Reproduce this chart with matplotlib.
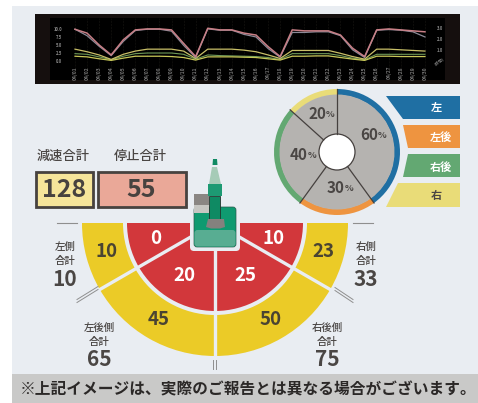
import matplotlib
matplotlib.use("Agg")
import numpy as np
import matplotlib.pyplot as plt
from matplotlib.patches import Wedge, Rectangle, Polygon, FancyBboxPatch, Circle

plt.rcParams['font.family'] = ['Noto Sans CJK JP', 'DejaVu Sans']

W, H = 478, 403

# line chart values
days = ["04/%02d" % d for d in range(1, 31)]
red_line = [100, 88, 51, 20, 67, 98, 101, 101, 98, 56, 15, 103, 98, 98, 88, 82, 46, 15, 98, 95, 95, 95, 82, 41, 15, 98, 101, 98, 95, 92]
gray_line = [100, 80, 47, 18, 62, 96, 100, 100, 94, 50, 12, 101, 97, 97, 84, 76, 40, 13, 90, 90, 92, 92, 80, 36, 12, 97, 99, 97, 92, 76]
yellow_top = [38, 30, 20, 6, 22, 32, 38, 38, 38, 32, 9, 38, 38, 38, 35, 30, 20, 9, 34, 34, 34, 34, 25, 15, 7, 38, 38, 36, 34, 32]
green_line = [24, 22, 14, 5, 16, 24, 26, 26, 26, 22, 7, 20, 18, 17, 16, 15, 12, 6, 24, 24, 24, 24, 18, 10, 5, 22, 22, 22, 22, 22]
yellow_low = [16, 14, 8, 3, 10, 16, 16, 16, 15, 12, 4, 14, 14, 14, 13, 12, 8, 4, 16, 16, 17, 17, 12, 7, 3, 16, 16, 15, 15, 15]
y_ticks = [0, 25, 50, 75, 100]
y_tick_labels = ["0.0", "2.5", "5.0", "7.5", "10.0"]
right_ticks = [35, 70, 105]
right_labels = ["1.0", "2.0", "3.0"]

# direction donut
dir_names = ["左", "左後", "右後", "右"]
dir_pct = [60, 30, 40, 20]
dir_colors = ["#1f6fa3", "#ee9440", "#63a872", "#e9dc78"]

# half ring counts, right to left
ring_angles = [30, 60, 60, 30]
inner_vals = [10, 25, 20, 0]
outer_vals = [23, 50, 45, 10]

slow_total = 128
stop_total = 55
totals = {"左側": 10, "左後側": 65, "右後側": 75, "右側": 33}

fig = plt.figure(figsize=(W / 100, H / 100), dpi=100, facecolor="white")
ax = fig.add_axes([0, 0, 1, 1])
ax.set_xlim(0, W)
ax.set_ylim(H, 0)
ax.axis('off')


def sub_axes(x0, y0, x1, y1):
    return fig.add_axes([x0 / W, 1 - y1 / H, (x1 - x0) / W, (y1 - y0) / H])


ax.add_patch(Rectangle((12, 6), W - 12, 368, fc="#e9edf2", ec="none"))
ax.add_patch(Rectangle((12, 374), W - 12, 29, fc="#c9c9c8", ec="none"))
ax.text(248, 389, "※上記イメージは、実際のご報告とは異なる場合がございます。", fontsize=11.3,
        fontweight='bold', color="#2b2827", ha='center', va='center')

# top chart
ax.add_patch(Rectangle((35, 14), 425, 70, fc="#150f0e", ec="none"))
lc = sub_axes(50, 18, 445, 80)
lc.set_facecolor("black")
lc.set_xlim(-2.07, 30.66)
lc.set_ylim(-58, 135)
x = np.arange(len(days))
for i in x:
    lc.axvline(i, color="#2c2a22", lw=0.4, ls=':')
lc.plot(x, green_line, color="#6f9a58", lw=0.8)
lc.plot(x, yellow_low, color="#c8c858", lw=0.9)
lc.plot(x, yellow_top, color="#c8bf68", lw=0.9)
lc.plot(x, gray_line, color="#8c8a98", lw=0.9)
lc.plot(x, red_line, color="#c87f86", lw=1.1)
lc.set_xticks(x)
lc.set_xticklabels(days, rotation=90, fontsize=3.5, color="#777777", fontweight='bold')
lc.set_yticks(y_ticks)
lc.set_yticklabels(y_tick_labels, fontsize=3, color="#8a8a8a", fontweight='bold')
lc.tick_params(axis='x', length=0, pad=-10)
lc.tick_params(axis='y', length=0, pad=-8.6)
rc = lc.twinx()
rc.set_ylim(lc.get_ylim())
rc.set_yticks(right_ticks)
rc.set_yticklabels(right_labels, fontsize=3, color="#8a8a8a", fontweight='bold')
rc.tick_params(axis='y', length=0, pad=-6)
rc.text(30.2, 0, "(時間)", fontsize=3, color="#8a8a8a", rotation=35, ha='center', va='center')
for a in (lc, rc):
    for s in a.spines.values():
        s.set_visible(False)

# donut with coloured rim
dn = sub_axes(337 - 64, 152 - 64, 337 + 64, 152 + 64)
dn.set_aspect('equal')
dn.axis('off')
dn.pie(dir_pct, radius=63, startangle=90, counterclock=False, colors=dir_colors,
       wedgeprops=dict(width=6, linewidth=0))
dn.pie(dir_pct, radius=57.5, startangle=90, counterclock=False, colors=["#b5b3b0"] * 4,
       wedgeprops=dict(width=40, linewidth=0))
dn.set_xlim(-64, 64)
dn.set_ylim(-64, 64)
edges = np.cumsum([0] + dir_pct[:-1]) / sum(dir_pct) * 2 * np.pi
for e in edges:
    dn.plot([18 * np.sin(e), 63 * np.sin(e)], [18 * np.cos(e), 63 * np.cos(e)], color="#45403e", lw=0.9)
dn.add_patch(Circle((0, 0), 18, fc="white", ec="#45403e", lw=0.9))

pct_pos = [(372, 135), (339, 188), (302, 155), (320, 114)]
for (px, py), p in zip(pct_pos, dir_pct):
    dn.text(px + 6 - 337, 152 - py - 0.5, "%", fontsize=6.5, fontweight='bold',
            color="#4a4644", ha='left', va='center')
    dn.text(px + 6 - 337, 152 - py, str(p), fontsize=11, fontweight='bold',
            color="#4a4644", ha='right', va='center')

# legend tabs
tabs = [[(386, 96), (460, 96), (460, 119), (403, 119)],
        [(403, 125), (460, 125), (460, 148), (408, 148)],
        [(408, 154), (460, 154), (460, 177), (403, 177)],
        [(398, 183), (460, 183), (460, 207), (386, 207)]]
tab_text = [(436, 108), (441, 137), (441, 167), (436, 196)]
tab_colors = ["white", "white", "white", "#4a4644"]
for pts, c, n, (tx, ty), tc in zip(tabs, dir_colors, dir_names, tab_text, tab_colors):
    ax.add_patch(Polygon(pts, closed=True, fc=c, ec="none"))
    ax.text(tx, ty, n, fontsize=8, fontweight='bold', color=tc, ha='center', va='center')

# total boxes
ax.text(63, 156, "減速合計", fontsize=9.5, fontweight='medium', color="#4a4644", ha='center', va='center')
ax.text(140, 156, "停止合計", fontsize=9.5, fontweight='medium', color="#4a4644", ha='center', va='center')
ax.add_patch(Rectangle((36, 172), 57, 35, fc="#f6e59a", ec="#47423f", lw=2))
ax.add_patch(Rectangle((98, 172), 88, 35, fc="#eaa898", ec="#47423f", lw=2))
ax.text(64.5, 190, str(slow_total), fontsize=18, fontweight='bold', color="#47423f", ha='center', va='center')
ax.text(141, 190, str(stop_total), fontsize=18, fontweight='bold', color="#47423f", ha='center', va='center')

# half ring, y axis is flipped so angles run clockwise on screen
cx, cy = 215, 223
a0 = 0
for ang, iv, ov in zip(ring_angles, inner_vals, outer_vals):
    a1 = a0 + ang
    ax.add_patch(Wedge((cx, cy), 133, a0, a1, width=41, fc="#ebcb27", ec="none"))
    ax.add_patch(Wedge((cx, cy), 88, a0, a1, fc="#d2373b", ec="none"))
    m = np.radians((a0 + a1) / 2)
    ax.text(cx + 112 * np.cos(m), cy + 112 * np.sin(m), str(ov), fontsize=13.5, fontweight='bold',
            color="#4a4432", ha='center', va='center')
    ax.text(cx + 61 * np.cos(m), cy + 61 * np.sin(m), str(iv), fontsize=13.5, fontweight='bold',
            color="white", ha='center', va='center')
    if a0 > 0:
        r = np.radians(a0)
        ax.plot([cx, cx + 134 * np.cos(r)], [cy, cy + 134 * np.sin(r)], color="#e9edf2", lw=2.4, solid_capstyle='butt')
    a0 = a1

# outside marks
gr = "#8f8f8f"
ax.plot([57, 77], [223, 223], color=gr, lw=0.8)
ax.plot([353, 373], [223, 223], color=gr, lw=0.8)
for off in (-1.5, 1.5):
    ax.plot([215 + off, 215 + off], [360, 369], color=gr, lw=0.7)
    ax.plot([77, 98], [301 + off, 288 + off], color=gr, lw=0.7)
    ax.plot([335, 353], [289 + off, 301 + off], color=gr, lw=0.7)

side_pos = {"左側": (65, 247), "右側": (366, 247), "左後側": (99, 328), "右後側": (327, 328)}
for k, v in totals.items():
    px, py = side_pos[k]
    ax.text(px, py, k, fontsize=7.5, fontweight='medium', color="#4a4644", ha='center', va='center')
    ax.text(px, py + 14, "合計", fontsize=7.5, fontweight='medium', color="#4a4644", ha='center', va='center')
    ax.text(px, py + 32, str(v), fontsize=15, fontweight='bold', color="#4a4644", ha='center', va='center')

# excavator, above the ring separators
ax.add_patch(FancyBboxPatch((190, 210), 50, 41, boxstyle="round,pad=0,rounding_size=4", fc="#e9edf2", ec="none", zorder=3))
ax.add_patch(FancyBboxPatch((194, 207), 42, 40, boxstyle="round,pad=0,rounding_size=3", fc="#0f9a70", ec="#2a5a4c", lw=0.5, zorder=3))
ax.add_patch(FancyBboxPatch((194.5, 230), 41, 16.5, boxstyle="round,pad=0,rounding_size=3", fc="#58ad92", ec="none", zorder=3))
ax.add_patch(Rectangle((194, 194), 15, 11, fc="#8a8683", ec="none", zorder=3))
ax.add_patch(Rectangle((194, 205), 15, 8, fc="#c6c6c2", ec="none", zorder=3))
ax.add_patch(Polygon([(212, 167), (217, 167), (221, 184), (209, 184)], closed=True, fc="#a6cbb7", ec="none", zorder=3))
ax.add_patch(Polygon([(213, 159), (217, 159), (217.5, 165), (212.5, 165)], closed=True, fc="#0f8a63", ec="none", zorder=3))
ax.add_patch(Rectangle((208, 184), 14, 12, fc="#1d9a73", ec="none", zorder=3))
ax.add_patch(Rectangle((209, 196), 11, 24, fc="#0f8a63", ec="#23332d", lw=0.6, zorder=3))
ax.add_patch(Polygon([(208, 219), (224, 219), (225, 227), (220, 228.5), (211, 228.5), (206, 227)], closed=True, fc="#85817e", ec="none", zorder=3))

fig.savefig("out.png", dpi=100)
